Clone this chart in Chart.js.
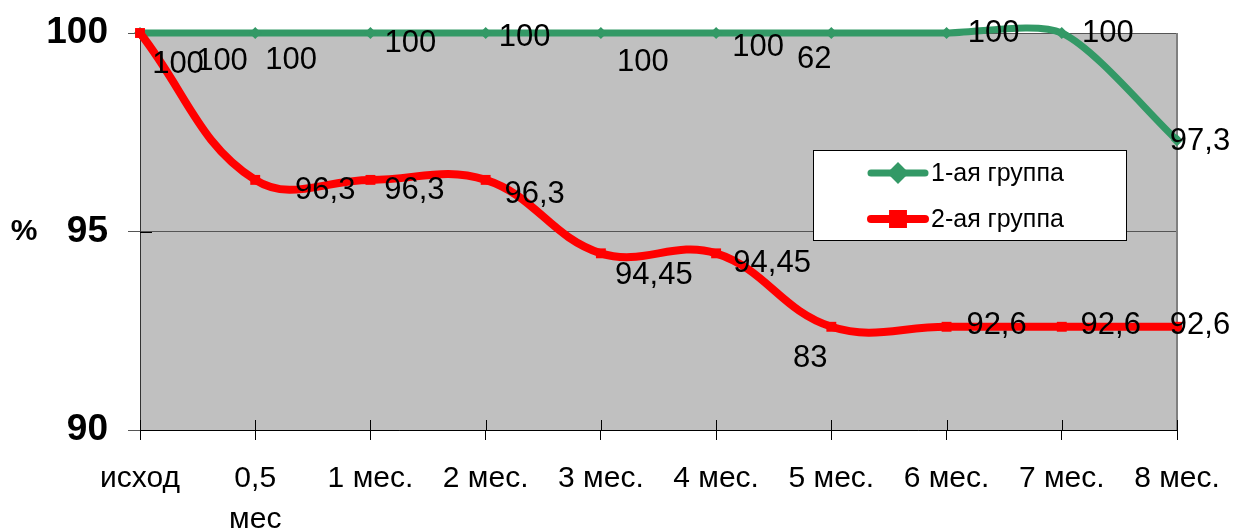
<!DOCTYPE html>
<html>
<head>
<meta charset="utf-8">
<script src="https://cdn.jsdelivr.net/npm/chart.js@4.4.1/dist/chart.umd.min.js"></script>
<style>
  html, body { margin: 0; padding: 0; background: #fff; }
  #chart { display: block; }
</style>
</head>
<body>
<canvas id="chart" width="1233" height="528"></canvas>
<script>
// --- Data ---
const categories = ["исход", ["0,5", "мес"], "1 мес.", "2 мес.", "3 мес.", "4 мес.", "5 мес.", "6 мес.", "7 мес.", "8 мес."];
const seriesNames = ["1-ая группа", "2-ая группа"];
const group1 = [100, 100, 100, 100, 100, 100, 100, 100, 100, 97.3];
const group2 = [100, 96.3, 96.3, 96.3, 94.45, 94.45, 92.6, 92.6, 92.6, 92.6];
const group1Labels = ["100", "100", "100", "100", "100", "100", "62", "100", "100", "97,3"];
const group2Labels = ["100", "96,3", "96,3", "96,3", "94,45", "94,45", "83", "92,6", "92,6", "92,6"];
const yTicks = [90, 95, 100];
const yUnit = "%";

// --- Layout / style ---
const FONT = "'Liberation Sans', Arial, sans-serif";
const GREEN = "#339966";
const RED = "#ff0000";
// where each data label sits relative to its point (dx, dy in px)
const group1LabelShift = [[82, 28], [36, 27], [40, 10], [39, 4], [42, 29], [42, 14], [-17, 26], [47, 0], [46, 0], [23, 1]];
const group2LabelShift = [[38, 31], [70, 11], [44, 11], [49, 15], [53, 22], [56, 10], [-21, 32], [50, -1], [49, -1], [23, -1]];
const legendBox = { left: 813, top: 150, right: 1126, bottom: 240 };

// keep the plot area where the layout padding puts it
const noScalePadding = (s) => {
  s.paddingTop = 0;
  s.paddingBottom = 0;
  s.paddingLeft = 0;
  s.paddingRight = 0;
};

const chartDecor = {
  id: "chartDecor",
  beforeDraw(chart) {
    const { ctx, chartArea: a } = chart;
    ctx.save();
    ctx.fillStyle = "#c0c0c0";
    ctx.fillRect(a.left, a.top, a.right - a.left, a.bottom - a.top);
    ctx.restore();
  },
  beforeDatasetsDraw(chart) {
    const { ctx, chartArea: a, scales } = chart;
    ctx.save();
    // right border of the plot
    ctx.strokeStyle = "#808080";
    ctx.lineWidth = 2;
    ctx.beginPath();
    ctx.moveTo(a.right, a.top);
    ctx.lineTo(a.right, a.bottom);
    ctx.stroke();
    // tick marks that cross into the plot
    ctx.strokeStyle = "#000";
    ctx.lineWidth = 1;
    ctx.beginPath();
    categories.forEach((_, i) => {
      const x = Math.round(scales.x.getPixelForValue(i)) + 0.5;
      ctx.moveTo(x, a.bottom - 10);
      ctx.lineTo(x, a.bottom);
    });
    yTicks.forEach((v) => {
      const y = Math.round(scales.y.getPixelForValue(v)) + 0.5;
      ctx.moveTo(a.left, y);
      ctx.lineTo(a.left + 12, y);
    });
    ctx.stroke();
    ctx.restore();
  },
  afterDatasetsDraw(chart) {
    const { ctx } = chart;
    ctx.save();
    ctx.fillStyle = "#000";
    ctx.font = "31px " + FONT;
    ctx.textAlign = "center";
    ctx.textBaseline = "middle";
    const sets = [
      [group1Labels, group1LabelShift],
      [group2Labels, group2LabelShift],
    ];
    sets.forEach(([labels, shift], di) => {
      const meta = chart.getDatasetMeta(di);
      meta.data.forEach((pt, i) => {
        ctx.fillText(labels[i], pt.x + shift[i][0], pt.y + shift[i][1]);
      });
    });
    ctx.restore();
  },
  afterDraw(chart) {
    const { ctx } = chart;
    ctx.save();
    // unit label
    ctx.fillStyle = "#000";
    ctx.font = "bold 30px " + FONT;
    ctx.textAlign = "center";
    ctx.textBaseline = "middle";
    ctx.fillText(yUnit, 24, 232);

    // legend
    const b = legendBox;
    ctx.fillStyle = "#fff";
    ctx.fillRect(b.left, b.top, b.right - b.left, b.bottom - b.top);
    ctx.strokeStyle = "#000";
    ctx.lineWidth = 1;
    ctx.strokeRect(b.left + 0.5, b.top + 0.5, b.right - b.left, b.bottom - b.top);

    const rows = [173, 219];
    chart.data.datasets.forEach((ds, i) => {
      const y = rows[i];
      ctx.strokeStyle = ds.borderColor;
      ctx.lineWidth = ds.borderWidth;
      ctx.lineCap = "round";
      ctx.beginPath();
      ctx.moveTo(871, y);
      ctx.lineTo(925, y);
      ctx.stroke();
      Chart.helpers.drawPoint(ctx, {
        pointStyle: ds.pointStyle,
        radius: ds.pointRadius,
        borderWidth: 1,
      }, 898, y);
      ctx.fillStyle = ds.borderColor;
      ctx.fill();
      ctx.fillStyle = "#000";
      ctx.font = "25px " + FONT;
      ctx.textAlign = "left";
      ctx.textBaseline = "middle";
      ctx.fillText(ds.label, 931, y + 1);
    });
    ctx.restore();
  },
};

new Chart(document.getElementById("chart"), {
  type: "line",
  data: {
    labels: categories,
    datasets: [
      {
        label: seriesNames[0],
        data: group1,
        borderColor: GREEN,
        backgroundColor: GREEN,
        borderWidth: 7,
        pointStyle: "rectRot",
        pointRadius: 6,
        pointBorderWidth: 0,
        tension: 0.25,
        order: 1,
        clip: false,
      },
      {
        label: seriesNames[1],
        data: group2,
        borderColor: RED,
        backgroundColor: RED,
        borderWidth: 8,
        pointStyle: "rect",
        pointRadius: 7,
        pointBorderWidth: 0,
        tension: 0.4,
        order: 0,
        clip: false,
      },
    ],
  },
  options: {
    responsive: false,
    animation: false,
    devicePixelRatio: 1,
    layout: { padding: { top: 33, right: 56, left: 0, bottom: 0 } },
    elements: { line: { capBezierPoints: false } },
    plugins: {
      legend: { display: false },
      tooltip: { enabled: false },
    },
    scales: {
      x: {
        type: "category",
        offset: false,
        grid: { display: true, drawOnChartArea: false, tickLength: 10, color: "#000", offset: false },
        border: { display: true, color: "#000", width: 1 },
        ticks: {
          color: "#000",
          font: { family: FONT, size: 30, lineHeight: 1.38 },
          padding: 18,
          maxRotation: 0,
          autoSkip: false,
        },
        afterFit: (s) => {
          s.height = 98;
          noScalePadding(s);
        },
      },
      y: {
        min: 90,
        max: 100,
        afterBuildTicks: (s) => { s.ticks = yTicks.map((v) => ({ value: v })); },
        grid: { color: "#555", lineWidth: 1, tickLength: 12 },
        border: { display: true, color: "#333", width: 1 },
        ticks: {
          color: "#000",
          font: { family: FONT, size: 37, weight: "bold" },
          padding: 20,
        },
        afterFit: (s) => {
          s.width = 140;
          noScalePadding(s);
        },
      },
    },
  },
  plugins: [chartDecor],
});
</script>
</body>
</html>
